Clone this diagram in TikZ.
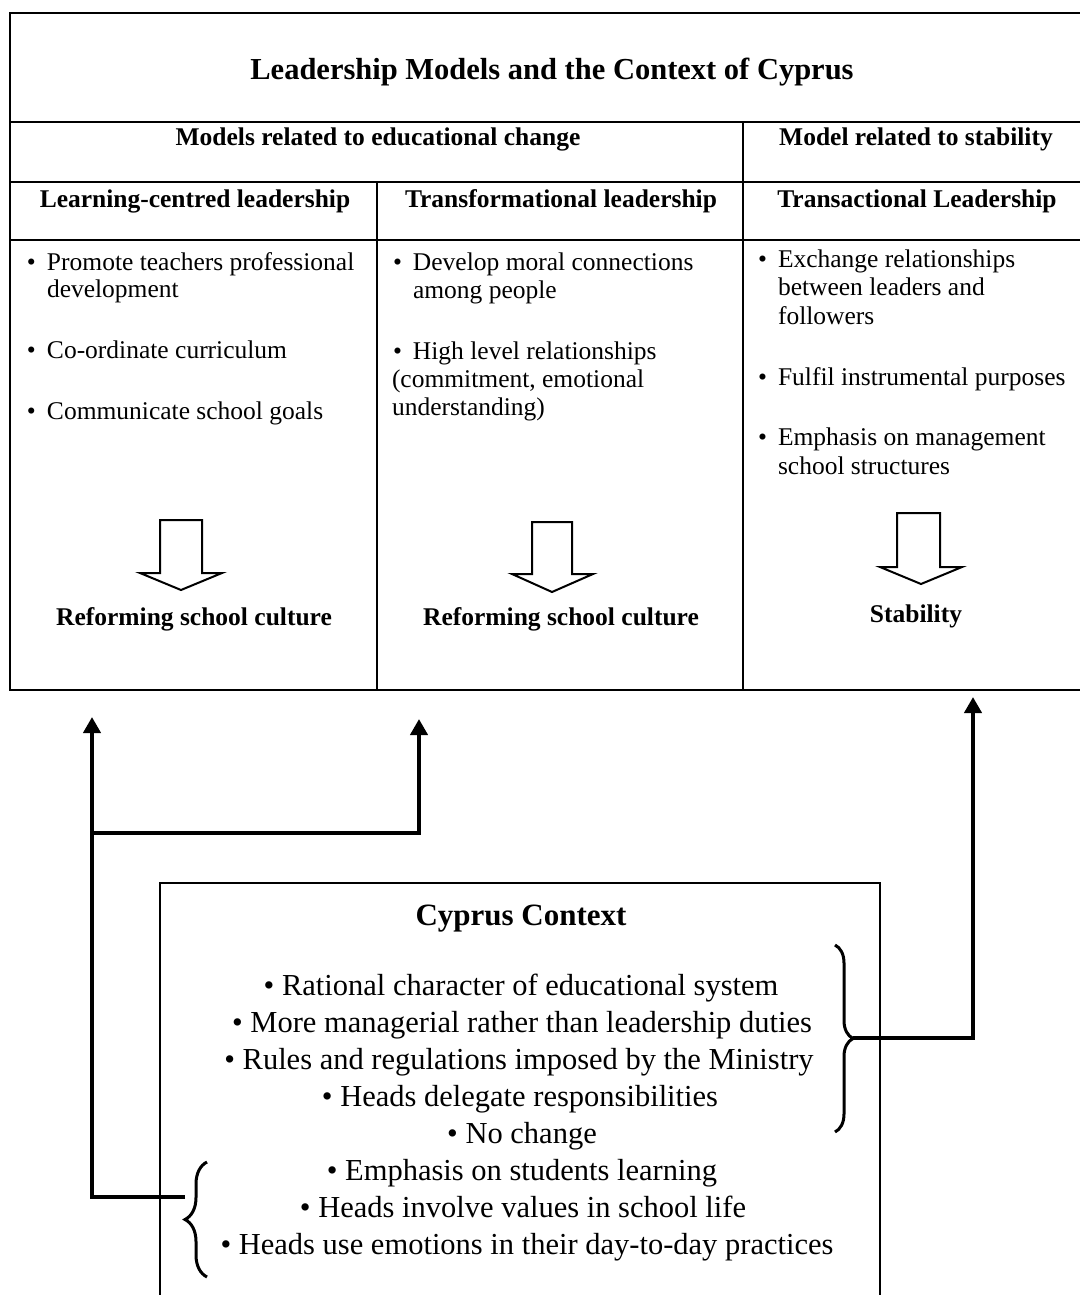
\documentclass[tikz,border=0pt]{standalone}
\usepackage{fontspec}
\setmainfont{Liberation Serif}
\usetikzlibrary{arrows.meta,decorations.pathreplacing}
\tikzset{
  tbl/.style={line width=1.4pt, line cap=rect},
  titlefont/.style={font=\bfseries\fontsize{30.5}{36}\selectfont},
  headfont/.style={font=\bfseries\fontsize{25.5}{28}\selectfont},
  bodyfont/.style={font=\fontsize{25.5}{28}\selectfont},
  ctxfont/.style={font=\fontsize{30.5}{37}\selectfont},
  ctxtitle/.style={font=\bfseries\fontsize{31}{37}\selectfont},
  txt/.style={inner sep=0pt, outer sep=0pt},
  head/.style={txt, headfont, anchor=base},
  body/.style={txt, bodyfont, anchor=base west},
  ctx/.style={txt, ctxfont, anchor=base},
  hollow/.style={line width=2pt, line join=miter, fill=white},
  conn/.style={line width=4pt, line join=miter, -{Triangle[width=17pt,length=16pt]}},
  bracestyle/.style={line width=3pt, decorate, decoration={brace, amplitude=#1, aspect=0.5}},
}
\newcommand{\bul}{\makebox[20pt][l]{\textbullet}}
\begin{document}
\begin{tikzpicture}[x=1pt,y=-1pt]
\useasboundingbox (0,0) rectangle (1079,1295);

% ---- table grid
\draw[tbl] (10,13) -- (1079,13);
\draw[tbl] (10,122) -- (1079,122);
\draw[tbl] (10,182) -- (1079,182);
\draw[tbl] (10,240) -- (1079,240);
\draw[tbl] (10,690) -- (1079,690);
\draw[tbl] (10,13) -- (10,690);
\draw[tbl] (377,182) -- (377,690);
\draw[tbl] (743,122) -- (743,690);

% ---- headings
\node[txt, titlefont, anchor=base] (title) at (552,80) {Leadership Models and the Context of Cyprus};
\node[head] (hchange) at (378,146) {Models related to educational change};
\node[head] (hstab) at (916,146) {Model related to stability};
\node[head] (hlearn) at (195,207) {Learning-centred leadership};
\node[head] (htransf) at (561,207) {Transformational leadership};
\node[head] (htransa) at (917,207) {Transactional Leadership};

% ---- column 1
\node[body] (c1a) at (27,270) {\bul Promote teachers professional};
\node[body] (c1b) at (47,297) {development};
\node[body] (c1c) at (27,358) {\bul Co-ordinate curriculum};
\node[body] (c1d) at (27,419) {\bul Communicate school goals};

% ---- column 2
\node[body] (c2a) at (393,270) {\bul Develop moral connections};
\node[body] (c2b) at (413,298) {among people};
\node[body] (c2c) at (393,359) {\bul High level relationships};
\node[body] (c2d) at (392,387) {(commitment, emotional};
\node[body] (c2e) at (392,415) {understanding)};

% ---- column 3
\node[body] (c3a) at (758,267) {\bul Exchange relationships};
\node[body] (c3b) at (778,295) {between leaders and};
\node[body] (c3c) at (778,324) {followers};
\node[body] (c3d) at (758,385) {\bul Fulfil instrumental purposes};
\node[body] (c3e) at (758,445) {\bul Emphasis on management};
\node[body] (c3f) at (778,474) {school structures};

% ---- hollow arrows
\draw[hollow] (160,520) -- (202,520) -- (202,573) -- (222,573) -- (181,590) -- (140,573) -- (160,573) -- cycle;
\draw[hollow] (532,522) -- (572,522) -- (572,574) -- (593,574) -- (552,592) -- (512,574) -- (532,574) -- cycle;
\draw[hollow] (897,513) -- (940,513) -- (940,567) -- (962,567) -- (921,584) -- (880,567) -- (897,567) -- cycle;

\node[head] (r1) at (194,625) {Reforming school culture};
\node[head] (r2) at (561,625) {Reforming school culture};
\node[head] (r3) at (916,622) {Stability};

% ---- Cyprus context box
\draw[tbl] (160,1295) -- (160,883) -- (880,883) -- (880,1295);
\node[txt, ctxtitle, anchor=base] (ctitle) at (521,925) {Cyprus Context};
\node[ctx] (k1) at (521,995) {\textbullet\ Rational character of educational system};
\node[ctx] (k2) at (522,1032) {\textbullet\ More managerial rather than leadership duties};
\node[ctx] (k3) at (519,1069) {\textbullet\ Rules and regulations imposed by the Ministry};
\node[ctx] (k4) at (520,1106) {\textbullet\ Heads delegate responsibilities};
\node[ctx] (k5) at (522,1143) {\textbullet\ No change};
\node[ctx] (k6) at (522,1180) {\textbullet\ Emphasis on students learning};
\node[ctx] (k7) at (523,1217) {\textbullet\ Heads involve values in school life};
\node[ctx] (k8) at (527,1254) {\textbullet\ Heads use emotions in their day-to-day practices};

% ---- braces
\draw[bracestyle=18pt] (835,945) -- (835,1132);
\draw[bracestyle=22pt] (207,1277) -- (207,1162);
\coordinate (rbtip) at (853,1038);
\coordinate (lbtip) at (185,1197);

% ---- connectors
\coordinate (rtarget) at (973,697);
\coordinate (ltarget) at (92,717);
\coordinate (mtarget) at (419,719);
\coordinate (branch) at (92,833);
\draw[conn] (rbtip) -| (rtarget);
\draw[conn] (lbtip) -| (ltarget);
\draw[conn] (branch) -| (mtarget);
\end{tikzpicture}
\end{document}
